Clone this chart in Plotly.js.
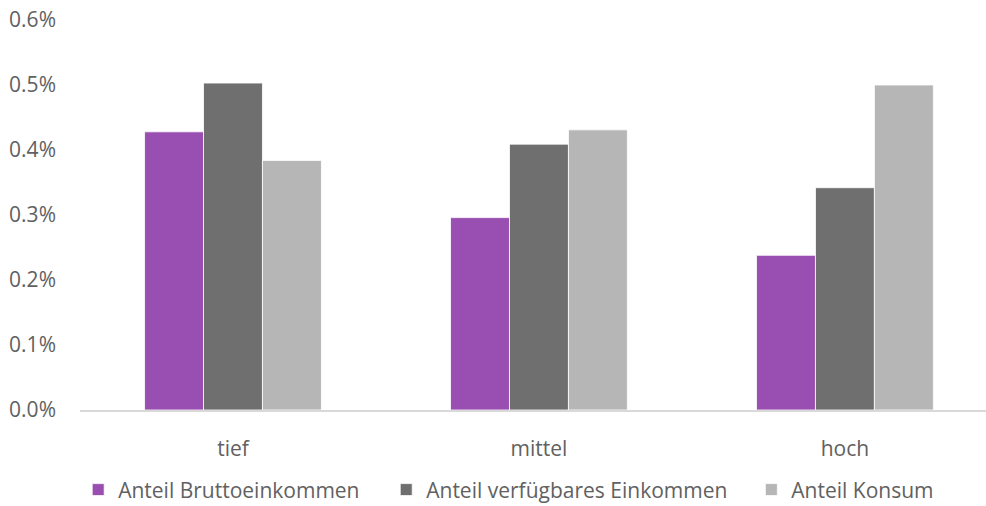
<!DOCTYPE html>
<html>
<head>
<meta charset="utf-8">
<script src="https://cdn.plot.ly/plotly-3.0.1.min.js"></script>
<style>
  html, body { margin: 0; padding: 0; background: #ffffff; }
  #chart { width: 986px; height: 506px; }
</style>
</head>
<body>
<div id="chart"></div>
<script>
// Einkommensgruppen
const categories = ['tief', 'mittel', 'hoch'];

// Anteile je Gruppe (als Bruchteil, 0.00428 = 0.428%)
const anteilBrutto = [0.00428, 0.00296, 0.00238];
const anteilVerfuegbar = [0.00503, 0.00409, 0.00342];
const anteilKonsum = [0.00384, 0.00431, 0.00500];

const seriesNames = ['Anteil Bruttoeinkommen', 'Anteil verfügbares Einkommen', 'Anteil Konsum'];
const seriesColors = ['#994FB1', '#6F6F6F', '#B6B6B6'];
const yTicks = [0, 0.001, 0.002, 0.003, 0.004, 0.005, 0.006];

const fontFamily = '"Open Sans", "Noto Sans", sans-serif';
const textColor = '#616161';
const fontSize = 21;

// one legend per series so each entry can be spaced freely
const legendIds = ['legend', 'legend2', 'legend3'];
const legendX = [-0.002, 0.338, 0.741];

const traces = [anteilBrutto, anteilVerfuegbar, anteilKonsum].map((vals, i) => ({
  type: 'bar',
  name: seriesNames[i],
  x: categories,
  y: vals,
  legend: legendIds[i],
  marker: { color: seriesColors[i], line: { color: '#FFFFFF', width: 0.8 } },
  hoverinfo: 'skip'
}));

function legendBox(x) {
  return {
    orientation: 'h',
    x: x, xanchor: 'left',
    y: -0.205, yanchor: 'middle',
    bgcolor: 'rgba(0,0,0,0)',
    borderwidth: 0,
    font: { family: fontFamily, size: fontSize, color: textColor },
    itemclick: false, itemdoubleclick: false
  };
}

const layout = {
  width: 986,
  height: 506,
  margin: { l: 80, r: 0, t: 20, b: 96, autoexpand: false },
  paper_bgcolor: '#FFFFFF',
  plot_bgcolor: '#FFFFFF',
  barmode: 'group',
  bargap: 0.422,
  bargroupgap: 0,
  font: { family: fontFamily, size: fontSize, color: textColor },
  showlegend: true,
  legend: legendBox(legendX[0]),
  legend2: legendBox(legendX[1]),
  legend3: legendBox(legendX[2]),
  xaxis: {
    type: 'category',
    range: [-0.5, 2.461],
    showgrid: false,
    showline: true,
    linecolor: '#D9D9D9',
    linewidth: 1.5,
    ticks: '',
    ticklabelstandoff: 19,
    tickfont: { family: fontFamily, size: fontSize, color: textColor },
    fixedrange: true
  },
  yaxis: {
    range: [0, 0.006],
    tickvals: yTicks,
    tickformat: '.1%',
    showgrid: false,
    zeroline: false,
    showline: false,
    ticks: '',
    ticklabelstandoff: 23,
    tickfont: { family: fontFamily, size: fontSize, color: textColor },
    fixedrange: true
  }
};

Plotly.newPlot('chart', traces, layout, { displayModeBar: false, staticPlot: true });
</script>
</body>
</html>
